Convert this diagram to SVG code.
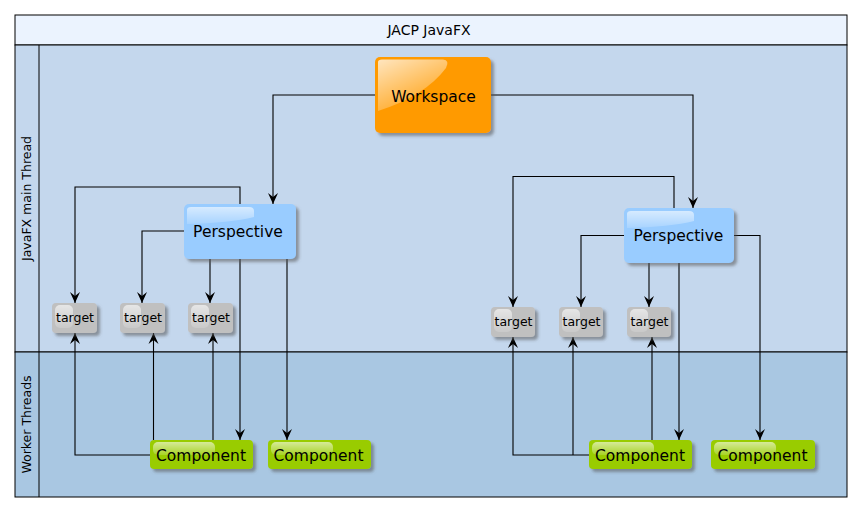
<svg xmlns="http://www.w3.org/2000/svg" width="862" height="513" viewBox="0 0 862 513">
<style>
.lane{stroke:#000;stroke-width:1}
.lbl{font-family:"DejaVu Sans",Verdana,sans-serif;fill:#000}
.conn{fill:none;stroke:#000;stroke-width:1.1}
.t{font-size:12.5px}
.n{font-size:15.5px}
</style>
<defs>
<marker id="arr" markerUnits="userSpaceOnUse" markerWidth="11" markerHeight="11" viewBox="0 0 11 11" refX="11" refY="5.5" orient="auto">
<path d="M0,0.5 L11,5.5 L0,10.5 L4,5.5 Z" fill="#000"/>
</marker>
<filter id="sh" x="-10%" y="-10%" width="130%" height="140%">
<feDropShadow dx="3" dy="3" stdDeviation="1.6" flood-color="#555" flood-opacity="0.55"/>
</filter>
<linearGradient id="gl" x1="0" y1="0" x2="0.6" y2="1">
<stop offset="0" stop-color="#fff" stop-opacity="0.75"/>
<stop offset="1" stop-color="#fff" stop-opacity="0.1"/>
</linearGradient>
<linearGradient id="gl2" x1="0" y1="0" x2="0" y2="1">
<stop offset="0" stop-color="#fff" stop-opacity="0.6"/>
<stop offset="1" stop-color="#fff" stop-opacity="0.15"/>
</linearGradient>
</defs>

<g id="frame">
<rect x="15" y="15" width="832" height="30" fill="#EBF3FE" class="lane"/>
<rect x="15" y="45" width="832" height="307" fill="#C4D7ED" class="lane"/>
<rect x="15" y="352" width="832" height="145" fill="#A9C7E2" class="lane"/>
<line x1="39" y1="45" x2="39" y2="497" class="lane"/>
<text x="429" y="35" text-anchor="middle" class="lbl" font-size="14">JACP JavaFX</text>
<text transform="translate(31,198.5) rotate(-90)" text-anchor="middle" class="lbl" font-size="12.5">JavaFX main Thread</text>
<text transform="translate(31,424.5) rotate(-90)" text-anchor="middle" class="lbl" font-size="12.5">Worker Threads</text>
</g>

<g id="connectors">
<path class="conn" marker-end="url(#arr)" d="M375,95 H273 V204"/>
<path class="conn" marker-end="url(#arr)" d="M491,95 H693 V208"/>
<path class="conn" marker-end="url(#arr)" d="M240,204 V187 H75 V303"/>
<path class="conn" marker-end="url(#arr)" d="M184,231 H142 V303"/>
<path class="conn" marker-end="url(#arr)" d="M210,259 V303"/>
<path class="conn" marker-end="url(#arr)" d="M240,259 V440"/>
<path class="conn" marker-end="url(#arr)" d="M287,259 V440"/>
<path class="conn" marker-end="url(#arr)" d="M150,455 H75 V333"/>
<path class="conn" marker-end="url(#arr)" d="M153.5,440 V333"/>
<path class="conn" marker-end="url(#arr)" d="M213,440 V333"/>
<path class="conn" marker-end="url(#arr)" d="M674,208 V176.5 H513 V307"/>
<path class="conn" marker-end="url(#arr)" d="M624,235.5 H581 V307"/>
<path class="conn" marker-end="url(#arr)" d="M649,263 V307"/>
<path class="conn" marker-end="url(#arr)" d="M679,263 V440"/>
<path class="conn" marker-end="url(#arr)" d="M734,235.5 H760 V440"/>
<path class="conn" marker-end="url(#arr)" d="M589,455 H513 V337"/>
<path class="conn" marker-end="url(#arr)" d="M573,455 V337"/>
<path class="conn" marker-end="url(#arr)" d="M652,440 V337"/>
</g>

<g id="workspace">
<rect x="375" y="57" width="116" height="76" rx="5" fill="#FF9A00" filter="url(#sh)"/>
<path d="M378,62 Q378,59.5 382,59.5 L443,59.5 Q450,60 446,68 Q425,96 378,111 Z" fill="url(#gl)"/>
<text x="433.5" y="101.5" text-anchor="middle" class="lbl n">Workspace</text>
</g>

<g id="perspective1">
<rect x="184" y="204" width="112" height="55" rx="5" fill="#99CCFF" filter="url(#sh)"/>
<path d="M187,210 Q187,207 191,207 L249,207 Q254,207 254,211 L254,217 Q230,223 187,224 Z" fill="url(#gl2)"/>
<text x="238" y="237" text-anchor="middle" class="lbl n">Perspective</text>
</g>

<g id="perspective2">
<rect x="624" y="208" width="110" height="55" rx="5" fill="#99CCFF" filter="url(#sh)"/>
<path d="M627,214 Q627,211 631,211 L689,211 Q694,211 694,215 L694,221 Q670,227 627,228 Z" fill="url(#gl2)"/>
<text x="678.5" y="241" text-anchor="middle" class="lbl n">Perspective</text>
</g>

<g id="target1">
<rect x="52" y="303" width="45" height="30" rx="4" fill="#C0C0C0" filter="url(#sh)"/>
<rect x="55" y="305" width="18" height="23" rx="5" fill="url(#gl2)"/>
<text x="75" y="322" text-anchor="middle" class="lbl t">target</text>
</g>
<g id="target2">
<rect x="120" y="303" width="45" height="30" rx="4" fill="#C0C0C0" filter="url(#sh)"/>
<rect x="123" y="305" width="18" height="23" rx="5" fill="url(#gl2)"/>
<text x="143" y="322" text-anchor="middle" class="lbl t">target</text>
</g>
<g id="target3">
<rect x="188" y="303" width="45" height="30" rx="4" fill="#C0C0C0" filter="url(#sh)"/>
<rect x="191" y="305" width="18" height="23" rx="5" fill="url(#gl2)"/>
<text x="211" y="322" text-anchor="middle" class="lbl t">target</text>
</g>
<g id="target4">
<rect x="491" y="307" width="44" height="30" rx="4" fill="#C0C0C0" filter="url(#sh)"/>
<rect x="494" y="309" width="18" height="23" rx="5" fill="url(#gl2)"/>
<text x="513.5" y="326" text-anchor="middle" class="lbl t">target</text>
</g>
<g id="target5">
<rect x="559" y="307" width="44" height="30" rx="4" fill="#C0C0C0" filter="url(#sh)"/>
<rect x="562" y="309" width="18" height="23" rx="5" fill="url(#gl2)"/>
<text x="581.5" y="326" text-anchor="middle" class="lbl t">target</text>
</g>
<g id="target6">
<rect x="627" y="307" width="44" height="30" rx="4" fill="#C0C0C0" filter="url(#sh)"/>
<rect x="630" y="309" width="18" height="23" rx="5" fill="url(#gl2)"/>
<text x="649.5" y="326" text-anchor="middle" class="lbl t">target</text>
</g>

<g id="component1">
<rect x="150" y="440" width="103" height="29" rx="4" fill="#99CC00" filter="url(#sh)"/>
<rect x="153" y="442" width="62" height="13" rx="5" fill="url(#gl2)"/>
<text x="201" y="461" text-anchor="middle" class="lbl n">Component</text>
</g>
<g id="component2">
<rect x="268" y="440" width="103" height="29" rx="4" fill="#99CC00" filter="url(#sh)"/>
<rect x="271" y="442" width="62" height="13" rx="5" fill="url(#gl2)"/>
<text x="318.5" y="461" text-anchor="middle" class="lbl n">Component</text>
</g>
<g id="component3">
<rect x="589" y="440" width="103" height="29" rx="4" fill="#99CC00" filter="url(#sh)"/>
<rect x="592" y="442" width="62" height="13" rx="5" fill="url(#gl2)"/>
<text x="640" y="461" text-anchor="middle" class="lbl n">Component</text>
</g>
<g id="component4">
<rect x="711" y="440" width="104" height="29" rx="4" fill="#99CC00" filter="url(#sh)"/>
<rect x="714" y="442" width="62" height="13" rx="5" fill="url(#gl2)"/>
<text x="762.5" y="461" text-anchor="middle" class="lbl n">Component</text>
</g>
</svg>
